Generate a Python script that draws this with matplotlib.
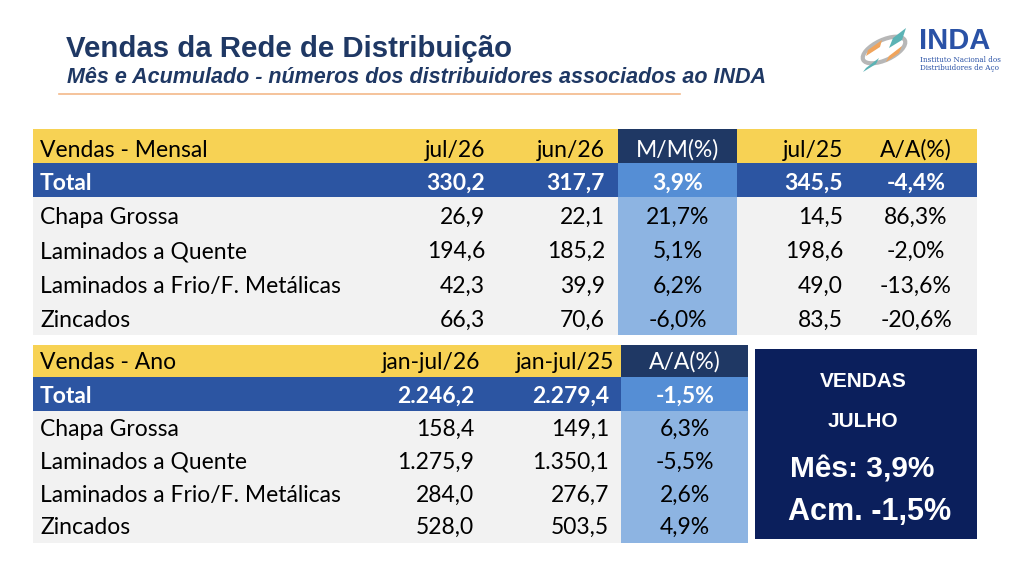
import matplotlib
matplotlib.use("Agg")
import matplotlib.pyplot as plt
from matplotlib.patches import Rectangle, Polygon, Ellipse

# ── data (thousand tonnes / %) ──────────────────────────────────────────────
products = ["Total", "Chapa Grossa", "Laminados a Quente",
            "Laminados a Frio/F. Metálicas", "Zincados"]

month_cols = ["jul/26", "jun/26", "M/M(%)", "jul/25", "A/A(%)"]
jul26 = [330.2, 26.9, 194.6, 42.3, 66.3]
jun26 = [317.7, 22.1, 185.2, 39.9, 70.6]
mm_pct = [3.9, 21.7, 5.1, 6.2, -6.0]
jul25 = [345.5, 14.5, 198.6, 49.0, 83.5]
aa_month_pct = [-4.4, 86.3, -2.0, -13.6, -20.6]

year_cols = ["jan-jul/26", "jan-jul/25", "A/A(%)"]
ytd26 = [2246.2, 158.4, 1275.9, 284.0, 528.0]
ytd25 = [2279.4, 149.1, 1350.1, 276.7, 503.5]
aa_year_pct = [-1.5, 6.3, -5.5, 2.6, 4.9]

box_month = 3.9
box_acc = -1.5

# ── colours / fonts ─────────────────────────────────────────────────────────
NAVY = "#1f3864"
YELLOW = "#f7d254"
BLUE = "#2c55a2"
MID_BLUE = "#558ed5"
LIGHT_BLUE = "#8db4e2"
GRAY = "#f2f2f2"
BOX = "#0b1f5c"
TFONT = "Lato"
AFONT = "Liberation Sans"
FS = 16.5


def br(v, dec=1):
    """Brazilian number format: 1.275,9"""
    s = f"{v:,.{dec}f}"
    return s.replace(",", "X").replace(".", ",").replace("X", ".")


def pct(v):
    return br(v) + "%"


fig = plt.figure(figsize=(10.24, 5.70), dpi=100)
ax = fig.add_axes([0, 0, 1, 1])
ax.set_xlim(0, 1024); ax.set_ylim(570, 0); ax.axis("off")


def rect(x0, y0, x1, y1, c):
    ax.add_patch(Rectangle((x0, y0), x1 - x0, y1 - y0, facecolor=c,
                           edgecolor="none", zorder=1))


def txt(x, y, s, ha="left", color="black", bold=False, size=FS, family=TFONT, **kw):
    ax.text(x, y, s, ha=ha, va="baseline", color=color, fontsize=size,
            fontweight="bold" if bold else "normal", family=family, zorder=3, **kw)


# ── title block ─────────────────────────────────────────────────────────────
txt(66, 57, "Vendas da Rede de Distribuição", color=NAVY, bold=True,
    size=21.2, family=AFONT)
txt(67, 83, "Mês e Acumulado - números dos distribuidores associados ao INDA",
    color=NAVY, bold=True, size=15.5, family=AFONT, style="italic")
ax.plot([59, 680], [94, 94], color="#f4b98a", lw=1.2, zorder=2)

# logo (approximate)
ax.add_patch(Ellipse((884, 50), 46, 20, angle=-25, facecolor="none",
                     edgecolor="#b7b7b7", lw=3, zorder=2))
for pts, c in [([(893, 38), (906, 28), (902, 40), (889, 48)], "#5bb3b5"),
               ([(868, 50), (882, 40), (880, 47), (866, 56)], "#f0a45c"),
               ([(889, 56), (902, 46), (899, 53), (886, 62)], "#f0a45c"),
               ([(866, 68), (879, 58), (876, 64), (863, 72)], "#5bb3b5")]:
    ax.add_patch(Polygon(pts, closed=True, facecolor=c, edgecolor="none", zorder=3))
txt(919, 49, "INDA", color="#2a52a6", bold=True, size=21, family=AFONT)
txt(920, 62, "Instituto Nacional dos", color="#2a52a6", size=5.2, family="DejaVu Serif")
txt(920, 70, "Distribuidores de Aço", color="#2a52a6", size=5.2, family="DejaVu Serif")

# ── monthly table ───────────────────────────────────────────────────────────
L, R = 33, 977
mm_x0, mm_x1 = 618, 737
hdr_top, hdr_bot, tot_bot, tab_bot = 129, 163, 197, 335
rect(L, hdr_top, R, hdr_bot, YELLOW)
rect(mm_x0, hdr_top, mm_x1, hdr_bot, NAVY)
rect(L, hdr_bot, R, tot_bot, BLUE)
rect(mm_x0, hdr_bot, mm_x1, tot_bot, MID_BLUE)
rect(L, tot_bot, R, tab_bot, GRAY)
rect(mm_x0, tot_bot, mm_x1, tab_bot, LIGHT_BLUE)

col_x = [485, 605, 678, 843, 916]
col_ha = ["right", "right", "center", "right", "center"]
txt(40, 157, "Vendas - Mensal")
for x, ha, lab in zip(col_x, col_ha, month_cols):
    txt(x, 157, lab, ha=ha, color="white" if lab == "M/M(%)" else "black")

row_base = [190, 224, 258, 293, 327]
for i, (name, yb) in enumerate(zip(products, row_base)):
    total = i == 0
    c = "white" if total else "black"
    txt(40, yb, name, color=c, bold=total)
    vals = [br(jul26[i]), br(jun26[i]), pct(mm_pct[i]), br(jul25[i]),
            pct(aa_month_pct[i])]
    for x, ha, v in zip(col_x, col_ha, vals):
        txt(x, yb, v, ha=ha, color=c, bold=total)

# ── year-to-date table ──────────────────────────────────────────────────────
yR, aa_x0, aa_x1 = 621, 621, 748
y_top, y_hdr, y_tot, y_bot = 345, 377, 411, 543
rect(L, y_top, yR, y_hdr, YELLOW)
rect(aa_x0, y_top, aa_x1, y_hdr, NAVY)
rect(L, y_hdr, yR, y_tot, BLUE)
rect(aa_x0, y_hdr, aa_x1, y_tot, MID_BLUE)
rect(L, y_tot, yR, y_bot, GRAY)
rect(aa_x0, y_tot, aa_x1, y_bot, LIGHT_BLUE)

txt(40, 369, "Vendas - Ano")
txt(480, 369, year_cols[0], ha="right")
txt(614, 369, year_cols[1], ha="right")
txt(685, 369, year_cols[2], ha="center", color="white")

yrow_base = [403, 436, 469, 502, 534]
for i, (name, yb) in enumerate(zip(products, yrow_base)):
    total = i == 0
    c = "white" if total else "black"
    txt(40, yb, name, color=c, bold=total)
    txt(474, yb, br(ytd26[i]), ha="right", color=c, bold=total)
    txt(609, yb, br(ytd25[i]), ha="right", color=c, bold=total)
    txt(685, yb, pct(aa_year_pct[i]), ha="center", color=c, bold=total)

# ── highlight box ───────────────────────────────────────────────────────────
rect(755, 349, 977, 539, BOX)
txt(863, 387, "VENDAS", ha="center", color="white", bold=True, size=15, family=AFONT)
txt(863, 427, "JULHO", ha="center", color="white", bold=True, size=15, family=AFONT)
txt(862, 478, f"Mês: {pct(box_month)}", ha="center", color="white", bold=True,
    size=21.5, family=AFONT)
txt(870, 520, f"Acm. {pct(box_acc)}", ha="center", color="white", bold=True,
    size=22, family=AFONT)

fig.savefig("out.png", dpi=100, facecolor="white")
